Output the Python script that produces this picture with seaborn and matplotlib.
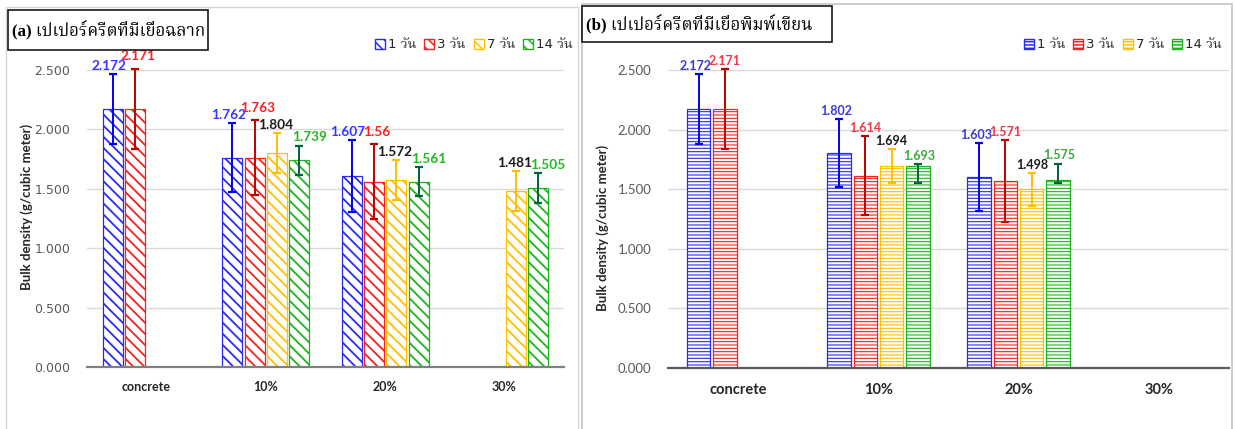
import matplotlib
matplotlib.use("Agg")
import matplotlib.pyplot as plt
import pandas as pd
import seaborn as sns
from matplotlib import font_manager
from matplotlib.ft2font import FT2Font
from matplotlib.patches import Patch, Rectangle

# ---------------------------------------------------------------- data
categories = ["concrete", "10%", "20%", "30%"]
series = ["1 วัน", "3 วัน", "7 วัน", "14 วัน"]

# (a) papercrete with label-paper pulp
a_1day = [2.172, 1.762, 1.607, None]
a_3day = [2.171, 1.763, 1.56, None]
a_7day = [None, 1.804, 1.572, 1.481]
a_14day = [None, 1.739, 1.561, 1.505]
a_err_1day = [0.295, 0.29, 0.30, None]
a_err_3day = [0.34, 0.315, 0.313, None]
a_err_7day = [None, 0.167, 0.17, 0.168]
a_err_14day = [None, 0.125, 0.122, 0.128]

# (b) papercrete with printing/writing-paper pulp
b_1day = [2.172, 1.802, 1.603, None]
b_3day = [2.171, 1.614, 1.571, None]
b_7day = [None, 1.694, 1.498, None]
b_14day = [None, 1.693, 1.575, None]
b_err_low_1day = [0.293, 0.287, 0.287, None]
b_err_low_3day = [0.335, 0.334, 0.343, None]
b_err_low_7day = [None, 0.14, 0.14, None]
b_err_low_14day = [None, 0.14, 0.02, None]
b_err_high_1day = [0.293, 0.287, 0.287, None]
b_err_high_3day = [0.335, 0.334, 0.343, None]
b_err_high_7day = [None, 0.14, 0.14, None]
b_err_high_14day = [None, 0.02, 0.14, None]

y_ticks = [0.0, 0.5, 1.0, 1.5, 2.0, 2.5]
y_label = "Bulk density (g/cubic meter)"
title_a = "(a) เปเปอร์ครีตที่มีเยื่อฉลาก"
title_b = "(b) เปเปอร์ครีตที่มีเยื่อพิมพ์เขียน"


def long_table(values, err_low, err_high):
    rows = []
    for s, vals, lo, hi in zip(series, values, err_low, err_high):
        for c, v, l, h in zip(categories, vals, lo, hi):
            if v is not None:
                rows.append({"cat": c, "day": s, "value": v, "lo": l, "hi": h})
    return pd.DataFrame(rows)


df_a = long_table([a_1day, a_3day, a_7day, a_14day],
                  [a_err_1day, a_err_3day, a_err_7day, a_err_14day],
                  [a_err_1day, a_err_3day, a_err_7day, a_err_14day])
df_b = long_table([b_1day, b_3day, b_7day, b_14day],
                  [b_err_low_1day, b_err_low_3day, b_err_low_7day, b_err_low_14day],
                  [b_err_high_1day, b_err_high_3day, b_err_high_7day, b_err_high_14day])


# ---------------------------------------------------------------- fonts
def thai_family():
    names = set()
    for entry in font_manager.fontManager.ttflist:
        try:
            if 0x0E27 in FT2Font(entry.fname).get_charmap():
                names.add(entry.name)
        except Exception:
            pass
    for pref in ["Norasi", "Noto Serif Thai", "Laksaman", "Kinnari", "Garuda",
                 "Loma", "Noto Sans Thai", "Noto Sans Thai Looped", "Sawasdee"]:
        if pref in names:
            return pref
    return sorted(names)[0] if names else "DejaVu Sans"


THAI = thai_family()

sns.set_theme(style="white")
plt.rcParams["font.family"] = ["DejaVu Sans", THAI]
plt.rcParams["hatch.linewidth"] = 1.1

W, H = 1235, 429
fig = plt.figure(figsize=(W / 100, H / 100), dpi=100)
fig.patch.set_facecolor("white")


def fx(x):
    return x / W


def fy(y):
    return 1 - y / H


# panel frames
fig.add_artist(Rectangle((fx(6), fy(435)), fx(578) - fx(6), fy(7) - fy(435),
                         transform=fig.transFigure, fill=False,
                         edgecolor="#D6D6D6", lw=1.0))
fig.add_artist(Rectangle((fx(582), fy(435)), fx(1232) - fx(582), fy(4) - fy(435),
                         transform=fig.transFigure, fill=False,
                         edgecolor="#C4C4C4", lw=1.2))

ax_a = fig.add_axes([fx(87), fy(367), fx(564) - fx(87), fy(70) - fy(367)])
ax_b = fig.add_axes([fx(668), fy(368), fx(1229) - fx(668), fy(70) - fy(368)])

bar_colors = ["#2A2AF5", "#F52020", "#FFC000", "#1DB31D"]
err_colors = ["#0000F0", "#C00000", "#FFC000", "#00613A"]
a_label_colors = ["#3737FF", "#FF1E1E", "#1A1A1A", "#22B822"]
b_label_colors = ["#3A3AD8", "#F03A4A", "#1A1A1A", "#3AAA3A"]


def draw_panel(ax, df, hatch, hatch_lw, label_colors, label_size,
               label_dx, label_dy, tick_font, tick_size, cat_size, cat_pad,
               ylab_size, ylab_x, ylab_y, axis_color):
    sns.barplot(data=df, x="cat", y="value", hue="day", order=categories,
                hue_order=series, palette=bar_colors, width=0.75, gap=0.11,
                errorbar=None, legend=False, ax=ax, zorder=2)
    bar_groups = list(ax.containers)
    for i, container in enumerate(bar_groups):
        sub = df[df["day"] == series[i]].set_index("cat")
        for bar in container:
            cx = bar.get_x() + bar.get_width() / 2
            cat = categories[int(round(cx))]
            row = sub.loc[cat]
            bar.set_facecolor("white")
            bar.set_edgecolor(bar_colors[i])
            bar.set_linewidth(0.9)
            bar.set_hatch(hatch)
            if hasattr(bar, "set_hatch_linewidth"):
                bar.set_hatch_linewidth(hatch_lw)
            ax.errorbar([cx], [row["value"]], yerr=[[row["lo"]], [row["hi"]]],
                        fmt="none", ecolor=err_colors[i], elinewidth=1.4,
                        capsize=2.6, capthick=1.6, zorder=4, clip_on=False)
            ax.annotate(f"{row['value']:g}", xy=(cx, row["value"] + row["hi"]),
                        xytext=(label_dx[i], label_dy[i]),
                        textcoords="offset points", ha="center", va="bottom",
                        fontsize=label_size, fontweight="bold",
                        color=label_colors[i], family="Lato", zorder=5,
                        annotation_clip=False)

    ax.set_xlim(-0.5, 3.5)
    ax.set_ylim(0, 2.5)
    ax.set_yticks(y_ticks)
    ax.set_yticklabels([f"{t:.3f}" for t in y_ticks], family=tick_font,
                       fontsize=tick_size, color="#595959")
    ax.set_xticks(range(len(categories)))
    ax.set_xticklabels(categories, family="Lato", fontsize=cat_size,
                       fontweight="bold", color="#262626")
    ax.tick_params(axis="x", length=0, pad=cat_pad)
    ax.tick_params(axis="y", length=0, pad=12)
    ax.yaxis.grid(True, color="#D9D9D9", lw=1.0, zorder=0)
    ax.set_axisbelow(True)
    for side in ["top", "right", "left"]:
        ax.spines[side].set_visible(False)
    ax.spines["bottom"].set_color(axis_color)
    ax.spines["bottom"].set_linewidth(1.6)
    ax.spines["bottom"].set_zorder(3)
    ax.set_xlabel("")
    ax.set_ylabel(y_label, family="Lato", fontsize=ylab_size,
                  fontweight="bold", color="#262626")
    ax.yaxis.set_label_coords(ylab_x, ylab_y)
    ax.set_facecolor("white")


draw_panel(ax_a, df_a, "\\\\\\", 1.3, a_label_colors, 9.8,
           [-3, 2, -1, 7], [1.5, 4.5, 1.5, 1.5], "DejaVu Sans", 9, 9, 10,
           9.5, -0.113, 0.54, "#7F7F7F")
draw_panel(ax_b, df_b, "-----", 0.8, b_label_colors, 9.0,
           [-2, 0, 0, 1], [1.5, 1.5, 1.5, 1.5], "Lato", 9.5, 10.5, 11,
           9.5, -0.105, 0.47, "#595959")

# titles in framed boxes
for (x0, y0, x1, y1), text, size in [((8, 10, 208, 50), title_a, 12.2),
                                     ((582, 6, 832, 42), title_b, 12.2)]:
    fig.add_artist(Rectangle((fx(x0), fy(y1)), fx(x1) - fx(x0), fy(y0) - fy(y1),
                             transform=fig.transFigure, fill=False,
                             edgecolor="#1A1A1A", lw=1.2))
    fig.text(fx(x0 + 4), fy((y0 + y1) / 2), text, ha="left", va="center",
             fontsize=size, fontweight="bold", color="black",
             family=["Liberation Serif", THAI])

# legends
for hatch, cx in [("\\\\\\", 474), ("-----", 1123)]:
    handles = [Patch(facecolor="white", edgecolor=c, hatch=hatch, lw=1.0)
               for c in bar_colors]
    fig.legend(handles, series, loc="center", bbox_to_anchor=(fx(cx), fy(45)),
               ncol=4, frameon=False, handlelength=0.75, handleheight=0.75,
               handletextpad=0.25, columnspacing=0.6, borderaxespad=0,
               prop={"family": ["DejaVu Sans", THAI], "size": 9.5})

fig.savefig("out.png", dpi=100, facecolor="white")
